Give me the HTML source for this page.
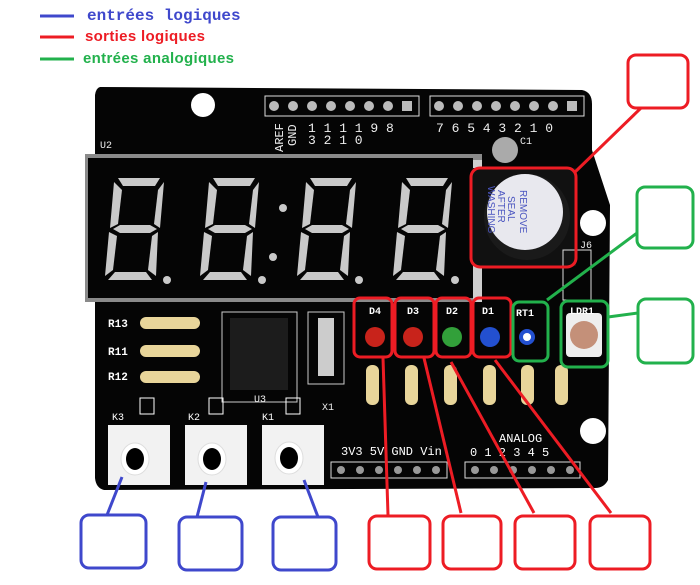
<!DOCTYPE html>
<html><head><meta charset="utf-8"><style>
html,body{margin:0;padding:0;background:#fff;}
svg{display:block}
</style></head><body>
<svg width="700" height="585" viewBox="0 0 700 585" xmlns="http://www.w3.org/2000/svg">
<rect width="700" height="585" fill="#fff"/>
<g stroke-width="3">
<line x1="40" y1="16" x2="74" y2="16" stroke="#3f48cc"/>
<line x1="40" y1="37" x2="74" y2="37" stroke="#ed1c24"/>
<line x1="40" y1="59" x2="74" y2="59" stroke="#22b14c"/>
</g>
<text x="87" y="20" font-family="Liberation Mono, monospace" font-weight="bold" font-size="16" fill="#3f48cc">entrées logiques</text>
<text x="85" y="41" font-family="Liberation Sans Narrow, Liberation Sans, sans-serif" font-weight="bold" font-size="15" fill="#ed1c24" textLength="120">sorties logiques</text>
<text x="83" y="63" font-family="Liberation Sans Narrow, Liberation Sans, sans-serif" font-weight="bold" font-size="15" fill="#22b14c" textLength="151">entrées analogiques</text>

<path d="M100 87 L582 90 Q592 92 592 104 L592 150 L610 205 L608 480 Q604 488 595 488 L104 490 Q96 488 95 478 L95 95 Q96 88 100 87 Z" fill="#050505"/>
<circle cx="203" cy="105" r="12" fill="#fff"/>
<circle cx="593" cy="223" r="13" fill="#fff"/>
<circle cx="593" cy="431" r="13" fill="#fff"/>
<rect x="265" y="96" width="154" height="20" fill="none" stroke="#ddd" stroke-width="1"/>
<rect x="430" y="96" width="154" height="20" fill="none" stroke="#ddd" stroke-width="1"/>
<g fill="#bbb">
<circle cx="274" cy="106" r="5"/><circle cx="293" cy="106" r="5"/><circle cx="312" cy="106" r="5"/><circle cx="331" cy="106" r="5"/><circle cx="350" cy="106" r="5"/><circle cx="369" cy="106" r="5"/><circle cx="388" cy="106" r="5"/><rect x="402" y="101" width="10" height="10"/>
<circle cx="439" cy="106" r="5"/><circle cx="458" cy="106" r="5"/><circle cx="477" cy="106" r="5"/><circle cx="496" cy="106" r="5"/><circle cx="515" cy="106" r="5"/><circle cx="534" cy="106" r="5"/><circle cx="553" cy="106" r="5"/><rect x="567" y="101" width="10" height="10"/>
</g>
<g font-family="Liberation Mono, monospace" font-size="13" fill="#eee">
<text x="308" y="132">1 1 1 1 9 8</text>
<text x="308" y="144">3 2 1 0</text>
<text x="436" y="132">7 6 5 4 3 2 1 0</text>
<text x="520" y="144" font-size="10">C1</text>
<text x="100" y="148" font-size="10">U2</text>
</g>
<text transform="translate(283,152) rotate(-90)" font-family="Liberation Mono, monospace" font-size="12" fill="#eee">AREF</text>
<text transform="translate(296,146) rotate(-90)" font-family="Liberation Mono, monospace" font-size="12" fill="#eee">GND</text>
<circle cx="505" cy="150" r="13" fill="#aaa"/>
<rect x="85" y="154" width="397" height="148" fill="#8a8a8a"/>
<rect x="88" y="158" width="385" height="140" fill="#050505"/>
<rect x="473" y="160" width="9" height="142" fill="#cfcfcf"/>
<g fill="#c9c9c9">
<g id="d1">
<polygon points="118,178 160,178 155,186 123,186"/>
<polygon points="114,182 122,190 118,224 110,228"/>
<polygon points="164,182 158,190 154,224 160,228"/>
<polygon points="113,229 120,225 150,225 157,229 150,233 120,233"/>
<polygon points="109,232 117,236 113,270 105,276"/>
<polygon points="158,232 152,236 148,270 156,276"/>
<polygon points="115,272 146,272 152,280 108,280"/>
<circle cx="167" cy="280" r="4"/>
</g>
<use href="#d1" x="95"/>
<use href="#d1" x="192"/>
<use href="#d1" x="288"/>
<circle cx="283" cy="208" r="4"/><circle cx="273" cy="257" r="4"/>
</g>
<rect x="472" y="168" width="104" height="98" fill="#111"/>
<circle cx="527" cy="217" r="43" fill="#1a1a1a"/>
<circle cx="525" cy="212" r="38" fill="#e8e8ee"/>
<text transform="translate(520,190) rotate(90)" font-family="Liberation Sans, sans-serif" font-size="10" fill="#4a55c0">REMOVE</text>
<text transform="translate(508,196) rotate(90)" font-family="Liberation Sans, sans-serif" font-size="10" fill="#4a55c0">SEAL</text>
<text transform="translate(498,190) rotate(90)" font-family="Liberation Sans, sans-serif" font-size="10" fill="#4a55c0">AFTER</text>
<text transform="translate(488,186) rotate(90)" font-family="Liberation Sans, sans-serif" font-size="10" fill="#4a55c0">WASHING</text>
<rect x="563" y="250" width="28" height="50" fill="none" stroke="#ddd"/>
<text x="580" y="248" font-family="Liberation Mono, monospace" font-size="10" fill="#eee">J6</text>
<g>
<rect x="140" y="317" width="60" height="12" rx="6" fill="#e8d59a"/>
<rect x="140" y="345" width="60" height="12" rx="6" fill="#e8d59a"/>
<rect x="140" y="371" width="60" height="12" rx="6" fill="#e8d59a"/>
<g fill="#fff" font-family="Liberation Mono, monospace" font-size="11" font-weight="bold">
<text x="108" y="327">R13</text><text x="108" y="355">R11</text><text x="108" y="380">R12</text>
</g>
</g>
<rect x="222" y="312" width="75" height="90" fill="none" stroke="#ccc"/>
<rect x="230" y="318" width="58" height="72" fill="#1c1c1c"/>
<text x="254" y="402" font-family="Liberation Mono, monospace" font-size="10" fill="#eee">U3</text>
<rect x="308" y="312" width="36" height="72" fill="none" stroke="#ccc"/>
<rect x="318" y="318" width="16" height="58" fill="#ccc"/>
<text x="322" y="410" font-family="Liberation Mono, monospace" font-size="10" fill="#eee">X1</text>
<circle cx="375" cy="337" r="10" fill="#c8231b"/>
<circle cx="413" cy="337" r="10" fill="#c8231b"/>
<circle cx="452" cy="337" r="10" fill="#32a03a"/>
<circle cx="490" cy="337" r="10" fill="#2350d0"/>
<circle cx="527" cy="337" r="8" fill="#2350d0"/><circle cx="527" cy="337" r="4" fill="#fff"/>
<rect x="566" y="313" width="36" height="44" rx="4" fill="#eee"/>
<circle cx="584" cy="335" r="14" fill="#c49079"/>
<g fill="#fff" font-family="Liberation Mono, monospace" font-size="10" font-weight="bold">
<text x="369" y="314">D4</text><text x="407" y="314">D3</text><text x="446" y="314">D2</text><text x="482" y="314">D1</text><text x="516" y="316">RT1</text><text x="570" y="314">LDR1</text>
</g>
<g fill="#e8d59a">
<rect x="366" y="365" width="13" height="40" rx="6"/>
<rect x="405" y="365" width="13" height="40" rx="6"/>
<rect x="444" y="365" width="13" height="40" rx="6"/>
<rect x="483" y="365" width="13" height="40" rx="6"/>
<rect x="521" y="365" width="13" height="40" rx="6"/>
<rect x="555" y="365" width="13" height="40" rx="6"/>
</g>
<g>
<rect x="108" y="425" width="62" height="60" fill="#f2f2f2"/>
<rect x="185" y="425" width="62" height="60" fill="#f2f2f2"/>
<rect x="262" y="425" width="62" height="60" fill="#f2f2f2"/>
<ellipse cx="135" cy="459" rx="14" ry="16" fill="#fff" stroke="#ddd"/><ellipse cx="135" cy="459" rx="9" ry="11" fill="#000"/>
<ellipse cx="212" cy="459" rx="14" ry="16" fill="#fff" stroke="#ddd"/><ellipse cx="212" cy="459" rx="9" ry="11" fill="#000"/>
<ellipse cx="289" cy="458" rx="14" ry="16" fill="#fff" stroke="#ddd"/><ellipse cx="289" cy="458" rx="9" ry="11" fill="#000"/>
</g>
<g fill="#fff" font-family="Liberation Mono, monospace" font-size="10">
<text x="112" y="420">K3</text><text x="188" y="420">K2</text><text x="262" y="420">K1</text>
<rect x="140" y="398" width="14" height="16" fill="none" stroke="#fff"/>
<rect x="209" y="398" width="14" height="16" fill="none" stroke="#fff"/>
<rect x="286" y="398" width="14" height="16" fill="none" stroke="#fff"/>
<text x="341" y="455" font-size="12">3V3 5V GND Vin</text>
<text x="499" y="442" font-size="12">ANALOG</text>
<text x="470" y="456" font-size="12">0 1 2 3 4 5</text>
</g>
<rect x="331" y="462" width="116" height="16" fill="none" stroke="#ddd"/>
<rect x="465" y="462" width="115" height="16" fill="none" stroke="#ddd"/>
<g fill="#999">
<circle cx="341" cy="470" r="4"/><circle cx="360" cy="470" r="4"/><circle cx="379" cy="470" r="4"/><circle cx="398" cy="470" r="4"/><circle cx="417" cy="470" r="4"/><circle cx="436" cy="470" r="4"/>
<circle cx="475" cy="470" r="4"/><circle cx="494" cy="470" r="4"/><circle cx="513" cy="470" r="4"/><circle cx="532" cy="470" r="4"/><circle cx="551" cy="470" r="4"/><circle cx="570" cy="470" r="4"/>
</g>

<g fill="none" stroke-width="3" stroke-linejoin="round">
<g stroke="#ed1c24">
<rect x="628" y="55" width="60" height="53" rx="8"/>
<rect x="471" y="168" width="105" height="99" rx="9"/>
<line x1="574" y1="173" x2="641" y2="108"/>
<rect x="354" y="298" width="38" height="59" rx="6"/>
<rect x="395" y="298" width="39" height="59" rx="6"/>
<rect x="436" y="298" width="35" height="59" rx="6"/>
<rect x="473" y="298" width="38" height="59" rx="6"/>
<line x1="383" y1="358" x2="388" y2="515"/>
<line x1="424" y1="358" x2="461" y2="513"/>
<line x1="451" y1="362" x2="534" y2="513"/>
<line x1="495" y1="360" x2="611" y2="513"/>
<rect x="369" y="516" width="61" height="53" rx="8"/>
<rect x="443" y="516" width="58" height="53" rx="8"/>
<rect x="515" y="516" width="60" height="53" rx="8"/>
<rect x="590" y="516" width="60" height="53" rx="8"/>
</g>
<g stroke="#22b14c">
<rect x="637" y="187" width="56" height="61" rx="8"/>
<rect x="638" y="299" width="55" height="64" rx="8"/>
<rect x="513" y="302" width="35" height="59" rx="6"/>
<rect x="561" y="301" width="47" height="66" rx="7"/>
<line x1="637" y1="233" x2="547" y2="300"/>
<line x1="608" y1="317" x2="638" y2="313"/>
</g>
<g stroke="#3f48cc">
<rect x="81" y="515" width="65" height="53" rx="8"/>
<rect x="179" y="517" width="63" height="53" rx="8"/>
<rect x="273" y="517" width="63" height="53" rx="8"/>
<line x1="122" y1="477" x2="107" y2="515"/>
<line x1="206" y1="482" x2="197" y2="517"/>
<line x1="304" y1="480" x2="318" y2="517"/>
</g>
</g>
</svg>
</body></html>
